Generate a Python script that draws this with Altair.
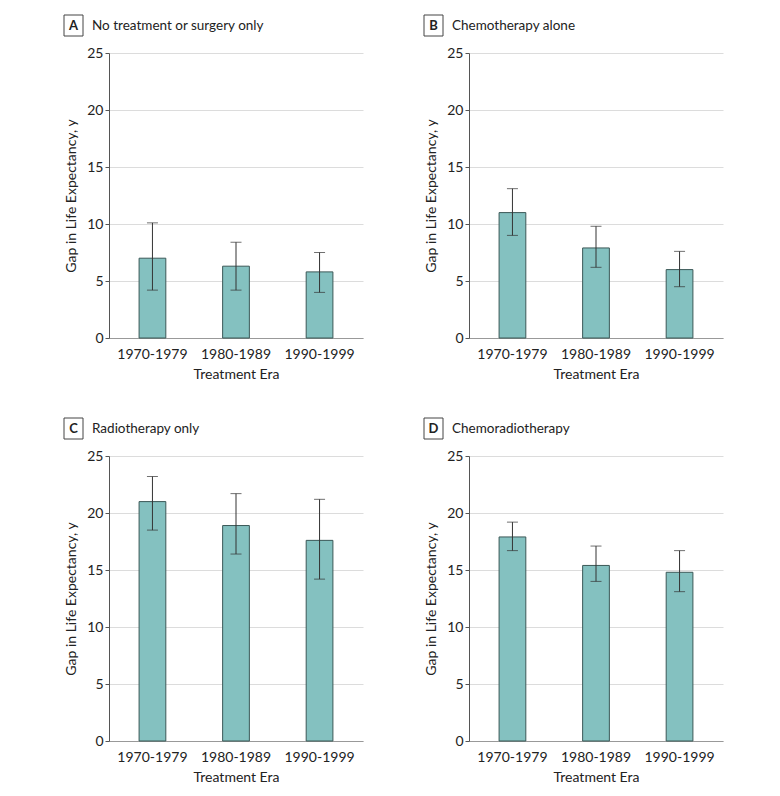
import altair as alt
import pandas as pd

eras = ["1970-1979", "1980-1989", "1990-1999"]

letters = ["A", "B", "C", "D"]
titles = ["No treatment or surgery only", "Chemotherapy alone", "Radiotherapy only", "Chemoradiotherapy"]

gap_a = [7.0, 6.3, 5.8]
low_a = [4.2, 4.2, 4.0]
high_a = [10.1, 8.4, 7.5]

gap_b = [11.0, 7.9, 6.0]
low_b = [9.0, 6.2, 4.5]
high_b = [13.1, 9.8, 7.6]

gap_c = [21.0, 18.9, 17.6]
low_c = [18.5, 16.4, 14.2]
high_c = [23.2, 21.7, 21.2]

gap_d = [17.9, 15.4, 14.8]
low_d = [16.7, 14.0, 13.1]
high_d = [19.2, 17.1, 16.7]

y_ticks = [0, 5, 10, 15, 20, 25]

FONT = "Lato"
BAR_FILL = "#84c1c0"
BAR_STROKE = "#3b5857"
ERR = "#333333"

W, H = 254, 285


def panel(letter, title, gap, low, high):
    df = pd.DataFrame({"era": eras, "gap": gap, "low": low, "high": high})
    head = pd.DataFrame({"letter": [letter], "title": [title]})
    yscale = alt.Scale(domain=[0, 25], nice=False)
    yax = alt.Axis(values=y_ticks, title="Gap in Life Expectancy, y", grid=True,
                   gridColor="#dcdcdc", tickSize=4, tickColor="#555", domainColor="#555",
                   labelPadding=2, titlePadding=8)
    xenc = alt.X("era:N", sort=eras,
                 scale=alt.Scale(paddingInner=0.68, paddingOuter=0.36),
                 axis=alt.Axis(title="Treatment Era", labelAngle=0, ticks=False,
                               domainColor="#999", labelPadding=9, titlePadding=6))
    base = alt.Chart(df).encode(x=xenc)
    bars = base.mark_bar(fill=BAR_FILL, stroke=BAR_STROKE, strokeWidth=1).encode(
        y=alt.Y("gap:Q", scale=yscale, axis=yax))
    rule = base.mark_rule(color=ERR, strokeWidth=1).encode(
        y=alt.Y("low:Q", scale=yscale, axis=yax), y2="high:Q")
    cap_hi = base.mark_tick(color=ERR, size=11, thickness=1, orient="horizontal").encode(
        y=alt.Y("high:Q", scale=yscale, axis=yax))
    cap_lo = base.mark_tick(color=ERR, size=11, thickness=1, orient="horizontal").encode(
        y=alt.Y("low:Q", scale=yscale, axis=yax))
    hb = alt.Chart(head)
    box = hb.mark_rect(fill="white", stroke="#444", strokeWidth=1).encode(
        x=alt.value(-45), x2=alt.value(-26), y=alt.value(-38), y2=alt.value(-17))
    let = hb.mark_text(font=FONT, fontSize=13, fontWeight="bold", color="#222",
                       align="center", baseline="middle").encode(
        x=alt.value(-35.5), y=alt.value(-27), text="letter:N")
    ttl = hb.mark_text(font=FONT, fontSize=13.5, color="#222", align="left",
                       baseline="middle").encode(
        x=alt.value(-17), y=alt.value(-27), text="title:N")
    return alt.layer(bars, rule, cap_hi, cap_lo, box, let, ttl).properties(width=W, height=H)


pa = panel(letters[0], titles[0], gap_a, low_a, high_a)
pb = panel(letters[1], titles[1], gap_b, low_b, high_b)
pc = panel(letters[2], titles[2], gap_c, low_c, high_c)
pd_ = panel(letters[3], titles[3], gap_d, low_d, high_d)

chart = alt.vconcat(
    alt.hconcat(pa, pb, spacing=60),
    alt.hconcat(pc, pd_, spacing=60),
    spacing=36,
).properties(
    padding={"left": 55, "top": 6, "right": 5, "bottom": 5}
).configure_view(stroke=None).configure_axis(
    labelFont=FONT, titleFont=FONT, labelFontSize=14, titleFontSize=14,
    titleFontWeight="normal", labelColor="#222", titleColor="#222"
).configure_concat(spacing=60)

chart.save("out.html", embed_options={"renderer": "svg", "actions": False})
